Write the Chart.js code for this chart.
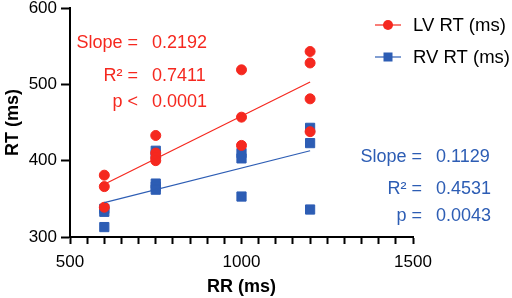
<!DOCTYPE html>
<html>
<head>
<meta charset="utf-8">
<script src="https://cdn.jsdelivr.net/npm/chart.js@4/dist/chart.umd.min.js"></script>
<style>
  html, body { margin: 0; padding: 0; background: #fff; }
  #wrap { width: 512px; height: 298px; }
</style>
</head>
<body>
<div id="wrap"><canvas id="c" width="512" height="298"></canvas></div>
<script>
// RR values (ms) and RT readings
const lvRR = [600, 600, 600, 750, 750, 750, 750, 1000, 1000, 1000, 1200, 1200, 1200, 1200]
const lvRT = [381, 366, 339, 433, 410, 404, 400, 519, 457, 420, 543, 528, 481, 438]
const rvRR = [600, 600, 600, 750, 750, 750, 750, 750, 1000, 1000, 1000, 1200, 1200, 1200]
const rvRT = [337, 333, 313, 413, 408, 370, 366, 362, 410, 403, 353, 443, 423, 336]

// regression line ends
const fitRR = [600, 1200]
const lvFit = [369, 503]
const rvFit = [345, 413]

const xTicks = [500, 1000, 1500]
const yTicks = [300, 400, 500, 600]

const RED = '#f5281f'
const BLUE = '#2d5db4'
const FONT = "'Liberation Sans', Arial, sans-serif"

const pts = (xs, ys) => xs.map((x, i) => ({ x: x, y: ys[i] }))

// legend + stats text
const extras = {
  id: 'extras',
  afterDraw(chart) {
    const ctx = chart.ctx
    ctx.save()
    // legend
    const legend = [['LV RT (ms)', RED, 'circle', 25], ['RV RT (ms)', BLUE, 'rect', 57]]
    legend.forEach(([label, col, shape, y]) => {
      ctx.strokeStyle = col
      ctx.lineWidth = 1.2
      ctx.beginPath()
      ctx.moveTo(375, y)
      ctx.lineTo(401, y)
      ctx.stroke()
      ctx.fillStyle = col
      if (shape === 'circle') {
        ctx.beginPath()
        ctx.arc(388, y, 5, 0, Math.PI * 2)
        ctx.fill()
      } else {
        ctx.fillRect(383.5, y - 4.5, 9, 9)
      }
      ctx.fillStyle = '#000'
      ctx.font = '18.5px ' + FONT
      ctx.textBaseline = 'middle'
      ctx.textAlign = 'left'
      ctx.fillText(label, 413, y + 1)
    })

    // stats
    ctx.font = '18px ' + FONT
    ctx.textBaseline = 'middle'
    const stats = [
      [RED, 138, 152, [['Slope =', '0.2192', 43], ['R\u00b2 =', '0.7411', 76], ['p <', '0.0001', 102]]],
      [BLUE, 422, 436, [['Slope =', '0.1129', 157], ['R\u00b2 =', '0.4531', 189], ['p =', '0.0043', 216]]]
    ]
    stats.forEach(([col, lx, vx, rows]) => {
      ctx.fillStyle = col
      rows.forEach(([l, v, y]) => {
        ctx.textAlign = 'right'
        ctx.fillText(l, lx, y)
        ctx.textAlign = 'left'
        ctx.fillText(v, vx, y)
      })
    })
    ctx.restore()
  }
}

new Chart(document.getElementById('c'), {
  type: 'scatter',
  data: {
    datasets: [
      {
        label: 'LV RT (ms)', data: pts(lvRR, lvRT),
        backgroundColor: RED, borderColor: RED,
        pointStyle: 'circle', pointRadius: 5, order: 2
      },
      {
        label: 'RV RT (ms)', data: pts(rvRR, rvRT),
        backgroundColor: BLUE, borderColor: BLUE,
        pointStyle: 'rect', pointRadius: 6.5, order: 3
      },
      {
        type: 'line', label: 'LV fit', data: pts(fitRR, lvFit),
        borderColor: RED, borderWidth: 1.2, pointRadius: 0, order: 0
      },
      {
        type: 'line', label: 'RV fit', data: pts(fitRR, rvFit),
        borderColor: BLUE, borderWidth: 1.2, pointRadius: 0, order: 1
      }
    ]
  },
  options: {
    responsive: false,
    animation: false,
    layout: { padding: { left: 0, top: 8, right: 99, bottom: 0 } },
    plugins: { legend: { display: false }, tooltip: { enabled: false } },
    scales: {
      x: {
        type: 'linear', min: 500, max: 1500,
        afterFit(s) { s.height = 61; s.paddingLeft = 0; s.paddingRight = 0 },
        grid: { display: true, drawOnChartArea: false, drawTicks: true, tickLength: 7, tickColor: '#000', tickWidth: 2 },
        border: { display: true, color: '#000', width: 2 },
        ticks: {
          stepSize: 50, autoSkip: false, maxRotation: 0,
          color: '#000', font: { family: FONT, size: 17 }, padding: 8,
          callback: v => xTicks.includes(v) ? String(v) : ''
        },
        title: { display: true, text: 'RR (ms)', color: '#000', font: { family: FONT, size: 18, weight: 'bold' }, padding: { top: 2, bottom: 0 } }
      },
      y: {
        type: 'linear', min: 300, max: 600,
        afterFit(s) { s.width = 70; s.paddingTop = 0; s.paddingBottom = 0 },
        grid: { display: true, drawOnChartArea: false, drawTicks: true, tickLength: 9, tickColor: '#000', tickWidth: 2 },
        border: { display: true, color: '#000', width: 2 },
        ticks: {
          stepSize: 100, color: '#000', font: { family: FONT, size: 17 }, padding: 4,
          callback: v => yTicks.includes(v) ? String(v) : ''
        },
        title: { display: true, text: 'RT (ms)', color: '#000', font: { family: FONT, size: 18, weight: 'bold' }, padding: { top: 2, bottom: 0 } }
      }
    }
  },
  plugins: [extras]
})
</script>
</body>
</html>
